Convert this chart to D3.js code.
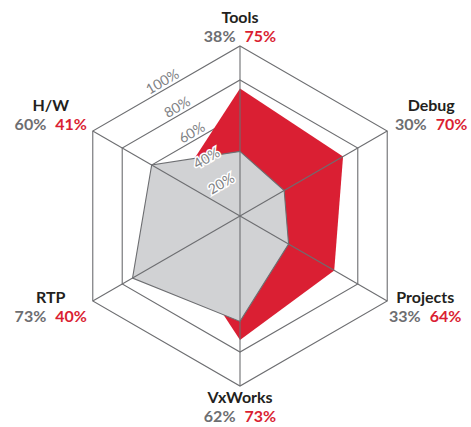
<!DOCTYPE html>
<html>
  <head>
    <title>Radar</title>
    <script src="https://cdn.jsdelivr.net/npm/d3@7"></script>
    <style>
      body { margin: 0; background: #fff; }
      text { font-family: Lato, "Open Sans", sans-serif; }
    </style>
  </head>
  <body>
    <svg width="471" height="427" id="mainsvg"></svg>
    <script>

    // data
    const axes = ['Tools', 'Debug', 'Projects', 'VxWorks', 'RTP', 'H/W'];
    const grayValues = [38, 30, 33, 62, 73, 60];
    const redValues = [75, 70, 64, 73, 40, 41];
    const tickValues = [20, 40, 60, 80, 100];

    // layout
    const svg = d3.select('svg');
    const cx = 240, cy = 216, R = 170;
    // label block offset from each outer vertex: [dx, name baseline dy]
    const labelOffset = [[0, -23], [44, -20], [38, 2], [0, 17], [-42, 2], [-42, -20]];

    const r = d3.scaleLinear().domain([0, 100]).range([0, R]);
    const angle = d3.scaleLinear().domain([0, axes.length]).range([0, 2 * Math.PI]);

    const radial = d3.lineRadial()
      .angle((d, i) => angle(i))
      .radius(d => r(d))
      .curve(d3.curveLinearClosed);

    const g = svg.append('g').attr('transform', `translate(${cx},${cy})`);

    // hexagon grid
    g.selectAll('.grid')
      .data(tickValues)
      .enter().append('path')
      .attr('class', 'grid')
      .attr('d', v => radial(axes.map(() => v)))
      .attr('fill', 'none')
      .attr('stroke', '#6d6e71')
      .attr('stroke-width', 1.1);

    // areas
    g.append('path')
      .attr('d', radial(redValues))
      .attr('fill', '#da1f33');

    g.append('path')
      .attr('d', radial(grayValues))
      .attr('fill', '#d1d2d4')
      .attr('stroke', '#6d6e71')
      .attr('stroke-width', 1.1);

    // spokes
    const pt = (i, v) => [Math.sin(angle(i)) * r(v), -Math.cos(angle(i)) * r(v)];
    g.selectAll('.spoke')
      .data(axes)
      .enter().append('line')
      .attr('class', 'spoke')
      .attr('x1', 0).attr('y1', 0)
      .attr('x2', (d, i) => pt(i, 100)[0])
      .attr('y2', (d, i) => pt(i, 100)[1])
      .attr('stroke', '#6d6e71')
      .attr('stroke-width', 1.1);

    // tick labels along the upper-left edge
    const a = -Math.PI / 6;
    g.selectAll('.tick')
      .data(tickValues)
      .enter().append('text')
      .attr('class', 'tick')
      .attr('transform', v => {
        const d = r(v) * Math.cos(Math.PI / 6) + 8;
        return `translate(${Math.sin(a) * d},${-Math.cos(a) * d}) rotate(-30)`;
      })
      .attr('text-anchor', 'middle')
      .attr('dy', '0.35em')
      .attr('font-size', 14)
      .attr('fill', '#808285')
      .attr('stroke', '#fff')
      .attr('stroke-width', 3)
      .attr('paint-order', 'stroke')
      .text(v => v + '%');

    // axis labels
    const lab = g.selectAll('.lab')
      .data(axes)
      .enter().append('g')
      .attr('class', 'lab')
      .attr('transform', (d, i) => {
        const p = pt(i, 100);
        return `translate(${p[0] + labelOffset[i][0]},${p[1] + labelOffset[i][1]})`;
      });

    lab.append('text')
      .attr('text-anchor', 'middle')
      .attr('font-size', 16)
      .attr('font-weight', 'bold')
      .attr('fill', '#231f20')
      .text(d => d);

    const pct = lab.append('text')
      .attr('text-anchor', 'middle')
      .attr('y', 19)
      .attr('font-size', 16)
      .attr('font-weight', 'bold');
    pct.append('tspan')
      .attr('fill', '#6d6e71')
      .text((d, i) => grayValues[i] + '%');
    pct.append('tspan')
      .attr('dx', 9)
      .attr('fill', '#da1f33')
      .text((d, i) => redValues[i] + '%');

  </script>
  </body>
</html>
